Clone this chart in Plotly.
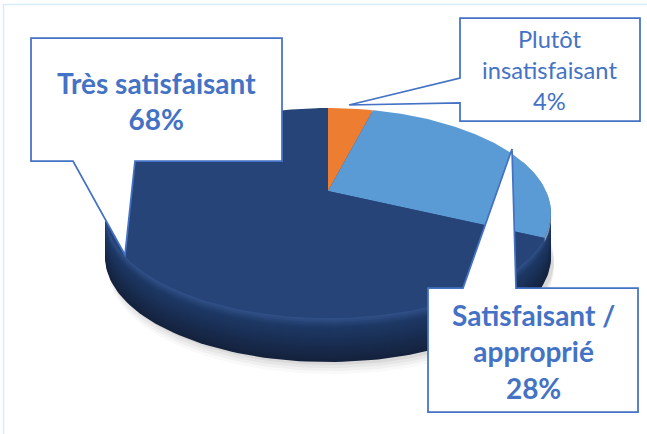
import numpy as np
import plotly.graph_objects as go

categories = ["Plutôt insatisfaisant", "Satisfaisant / approprié", "Très satisfaisant"]
values = [4, 28, 68]
slice_colors = ["#ED7D31", "#5B9BD5", "#264478"]
label_lines = [["Plutôt", "insatisfaisant", "4%"], ["Satisfaisant /", "approprié", "28%"], ["Très satisfaisant", "68%"]]

BLUE = "#4472C4"
CX, CY, RX, RY, K = 328.0, 191.0, 218.0, 100.4, 0.21
DEPTH = 44


def rim(frac, dy=0.0):
    """Perspective projection of the pie rim, frac = share of the circle clockwise from 12 o'clock."""
    t = 2 * np.pi * np.asarray(frac, dtype=float)
    u, v = np.sin(t), -np.cos(t)
    w = 1 - K * v
    return CX + RX * u / w, CY + RY * v / w + dy


def poly(x, y, color):
    return go.Scatter(x=x, y=y, mode="lines", fill="toself", fillcolor=color,
                      line=dict(width=0, color=color), hoverinfo="skip", showlegend=False)


def mix(a, b, s):
    ca = [int(a[i:i + 2], 16) for i in (1, 3, 5)]
    cb = [int(b[i:i + 2], 16) for i in (1, 3, 5)]
    return "rgb(%d,%d,%d)" % tuple(round(p + (q - p) * s) for p, q in zip(ca, cb))


fig = go.Figure()
all_f = np.linspace(0, 1, 241)

# soft ground shadow
for extra, alpha in [(12, .04), (9, .06), (6, .08), (3, .10)]:
    x, y = rim(all_f, DEPTH + extra)
    fig.add_trace(poly(x + 3, y, f"rgba(110,110,110,{alpha})"))

# extruded side: stacked layers from bottom to top
for d in range(DEPTH, 0, -2):
    s = d / DEPTH
    if s > .22:
        col = mix("#1E3966", "#14223D", (s - .22) / .78)
    else:
        col = mix("#34548E", "#1E3966", s / .22)
    x, y = rim(all_f, d)
    fig.add_trace(poly(x, y, col))

# top face
cum = np.cumsum([0] + values) / sum(values)
# bevel of the light-blue slice on the right
f = np.linspace(.2, cum[2], 40)
x, y = rim(f, 4)
x0, y0 = rim(f, 0)
fig.add_trace(poly(np.r_[x0, x[::-1]], np.r_[y0, y[::-1]], "#8C9BAE"))
for i, (v, c) in enumerate(zip(values, slice_colors)):
    f = np.linspace(cum[i], cum[i + 1], max(8, int(v * 4)))
    x, y = rim(f)
    fig.add_trace(go.Scatter(x=np.r_[CX, x, CX], y=np.r_[CY, y, CY], mode="lines", fill="toself",
                             fillcolor=c, line=dict(width=0, color=c), name=categories[i],
                             hoverinfo="name", showlegend=False))


def callout(pts):
    path = "M " + " L ".join(f"{a} {b}" for a, b in pts) + " Z"
    return dict(type="path", path=path, xref="x", yref="y", fillcolor="white",
                line=dict(color=BLUE, width=1.75), layer="above")


shapes = [
    dict(type="rect", xref="x", yref="y", x0=3.5, y0=4.5, x1=660, y1=450, line=dict(color="#D9ECFB", width=1.5), layer="below"),
    callout([(31, 38), (282, 38), (282, 161), (135, 161), (125, 255), (73, 161), (31, 161)]),
    callout([(460, 18), (640, 18), (640, 121), (460, 121), (460, 103), (349, 105), (460, 78)]),
    callout([(428, 288), (463, 288), (512, 149), (516, 288), (638, 288), (638, 412), (428, 412)]),
]

FONT = "Lato"
annots = [
    (549, 70, label_lines[0], False, 23.7),
    (533, 351, label_lines[1], True, 28),
    (156, 101, label_lines[2], True, 28),
]
annotations = [dict(x=a, y=b, xref="x", yref="y", text="<br>".join(t), showarrow=False,
                    font=dict(family=FONT, size=s, color=BLUE, weight="bold" if bold else "normal"),
                    align="center", xanchor="center", yanchor="middle")
               for a, b, t, bold, s in annots]

fig.update_layout(
    width=647, height=434, margin=dict(l=0, r=0, t=0, b=0),
    paper_bgcolor="white", plot_bgcolor="white", showlegend=False,
    xaxis=dict(range=[0, 647], visible=False, fixedrange=True),
    yaxis=dict(range=[434, 0], visible=False, fixedrange=True),
    shapes=shapes, annotations=annotations,
)
fig.write_html("out.html", config={"displayModeBar": False},
               post_script="document.body.style.margin='0';document.body.style.overflow='hidden';")
